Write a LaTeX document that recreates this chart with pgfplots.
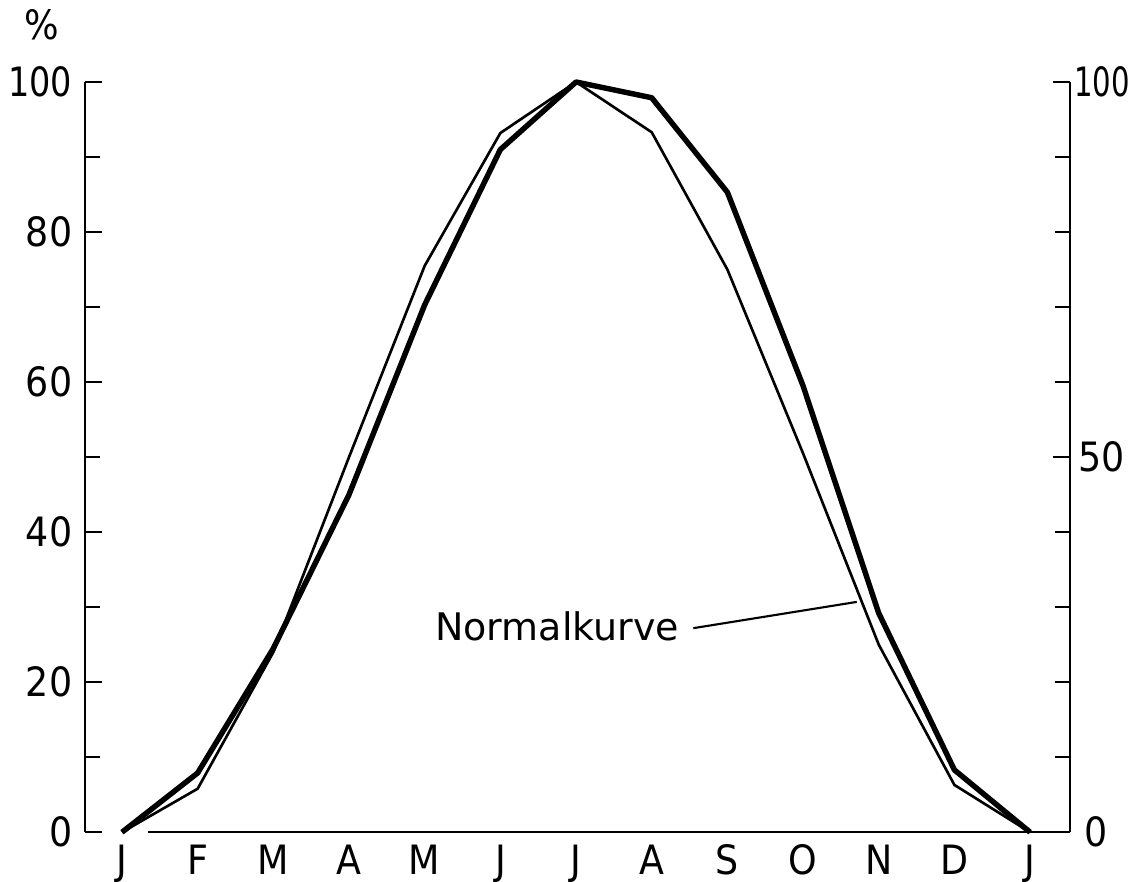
\documentclass[border=0pt]{standalone}
\usepackage{fontspec}
\setmainfont{DejaVu Sans}
\newfontfamily\condensed{DejaVu Sans Condensed}
\usepackage{graphicx}
\usepackage{pgfplots}
\usepackage{pgfplotstable}
\pgfplotsset{compat=1.18}

% monthly values in percent of the July maximum
\pgfplotstableread{
m  val
0  0
1  5.8
2  24
3  50
4  75.5
5  93.2
6  100
7  93.3
8  75
9  50.5
10 25
11 6.3
12 0
}\normalkurve
\pgfplotstableread{
m  val
0  0
1  7.9
2  24.5
3  45
4  70.3
5  91
6  100
7  97.9
8  85.3
9  59.5
10 29.2
11 8.3
12 0
}\messkurve

\newcommand\lbl{\condensed\fontsize{11.5}{13}\selectfont}

\begin{document}
\begin{tikzpicture}
\pgfplotsset{
  common/.style={
    scale only axis,
    width=9.85cm, height=7.5cm,
    xmin=-0.49, xmax=12.53,
    ymin=0, ymax=100,
    clip=false,
    major tick length=0.17cm,
    minor tick length=0.15cm,
    every tick/.style={black, line width=0.6pt},
    /pgf/number format/assume math mode=true,
    every tick label/.append style={font=\lbl},
  },
}
\begin{axis}[
  common,
  axis x line*=bottom,
  axis y line*=left,
  tick align=inside,
  axis line style={line width=0.6pt, -},
  x axis line style={draw=none},
  xtick={0,...,12},
  xticklabels={J,F,M,A,M,J,J,A,S,O,N,D,J},
  xtick style={draw=none},
  xticklabel style={inner sep=0.12cm},
  ytick={0,20,...,100},
  minor ytick={10,30,...,90},
  yticklabels={0,20,40,60,80,\scalebox{0.92}[1]{100}},
  yticklabel style={inner sep=0.12cm},
]
  % x axis line, starting just right of the first month
  \draw[line width=0.6pt] (axis cs:0.34,0) -- (axis cs:12.53,0);
  \node[font=\lbl] at (axis cs:-1.06,107.6) {\%};

  \addplot[black, line width=0.75pt, line join=round] table[x=m, y=val] {\normalkurve};
  \addplot[black, line width=1.55pt, line join=round] table[x=m, y=val] {\messkurve};

  \node[anchor=base east, inner sep=0pt, font=\fontsize{10.8}{13}\selectfont]
    at (axis cs:7.37,25.6) {Normalkurve};
  \draw[line width=0.6pt] (axis cs:7.55,27.2) -- (axis cs:9.71,30.7);

  \coordinate (bbsw) at (axis cs:-1.612,-6.53);
  \coordinate (bbne) at (axis cs:13.36,110.93);
\end{axis}
\begin{axis}[
  common,
  axis x line=none,
  axis y line*=right,
  tick align=inside,
  axis line style={line width=0.6pt, -},
  ytick={0,50,100},
  minor ytick={10,20,30,40,60,70,80,90},
  yticklabels={\hspace{0.25em}0,\hspace{0.1em}50,\scalebox{0.8}[1]{100}},
  yticklabel style={inner sep=1pt},
]
\end{axis}
\pgfresetboundingbox
\path[use as bounding box] (bbsw) rectangle (bbne);
\end{tikzpicture}
\end{document}
